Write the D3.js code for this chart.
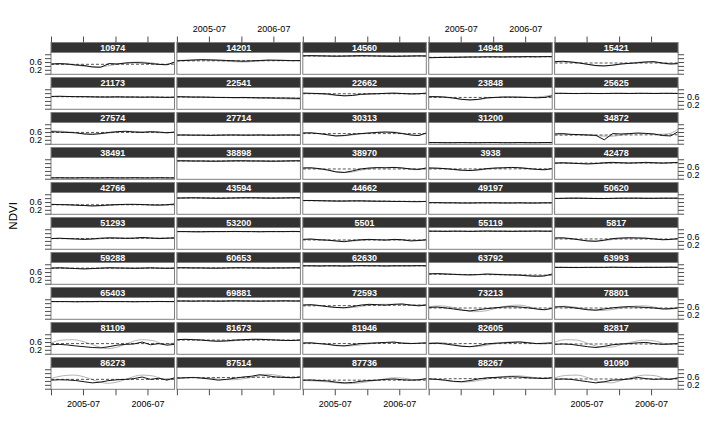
<!DOCTYPE html>
<html><head><meta charset="utf-8">
<script src="https://cdn.jsdelivr.net/npm/d3@7"></script>
<style>
html,body{margin:0;padding:0;background:#fff;}
svg{display:block;font-family:"Liberation Sans",Arial,Helvetica,sans-serif;}
</style></head>
<body><svg id="chart" width="720" height="432"></svg>
<script>
const panelIds = ["10974","14201","14560","14948","15421",
"21173","22541","22662","23848","25625",
"27574","27714","30313","31200","34872",
"38491","38898","38970","3938","42478",
"42766","43594","44662","49197","50620",
"51293","53200","5501","55119","5817",
"59288","60653","62630","63792","63993",
"65403","69881","72593","73213","78801",
"81109","81673","81946","82605","82817",
"86273","87514","87736","88267","91090"];

const obsDates = ["2005-01-01","2005-02-16","2005-04-04","2005-05-21","2005-07-07","2005-08-23","2005-10-09","2005-11-25",
"2006-01-11","2006-02-27","2006-04-15","2006-06-01","2006-07-18","2006-09-03","2006-10-20","2006-12-01"];
const fitDates = ["2005-01-01","2005-03-05","2005-05-08","2005-07-11","2005-09-13","2005-11-16",
"2006-01-19","2006-03-24","2006-05-27","2006-07-30","2006-10-01","2006-12-01"];
const xTicks = ["2005-01-01","2005-07-01","2006-01-01","2006-07-01"];
const xTickLabels = ["","2005-07","","2006-07"];
const yTicks = [0,0.2,0.4,0.6,0.8,1.0];
const yTickLabels = ["","0.2","","0.6","",""];

const obsValues = [
[0.50,0.52,0.50,0.45,0.42,0.35,0.33,0.52,0.50,0.55,0.57,0.56,0.52,0.48,0.46,0.60],
[0.66,0.68,0.70,0.72,0.71,0.70,0.68,0.66,0.64,0.66,0.68,0.70,0.69,0.68,0.67,0.68],
[0.92,0.93,0.92,0.91,0.90,0.91,0.92,0.93,0.92,0.91,0.90,0.89,0.90,0.91,0.92,0.91],
[0.82,0.83,0.84,0.84,0.85,0.86,0.86,0.87,0.87,0.86,0.87,0.87,0.88,0.87,0.88,0.88],
[0.62,0.64,0.60,0.55,0.48,0.42,0.40,0.44,0.50,0.53,0.56,0.60,0.62,0.55,0.50,0.52],
[0.63,0.64,0.63,0.62,0.62,0.61,0.60,0.60,0.61,0.60,0.60,0.59,0.60,0.59,0.58,0.59],
[0.62,0.61,0.60,0.60,0.59,0.58,0.58,0.57,0.58,0.57,0.56,0.56,0.55,0.55,0.54,0.53],
[0.80,0.79,0.78,0.76,0.70,0.66,0.68,0.74,0.76,0.77,0.79,0.80,0.78,0.76,0.77,0.80],
[0.62,0.62,0.60,0.55,0.48,0.45,0.48,0.56,0.58,0.60,0.60,0.59,0.58,0.56,0.58,0.66],
[0.79,0.79,0.78,0.78,0.79,0.78,0.78,0.79,0.79,0.78,0.79,0.79,0.78,0.79,0.79,0.78],
[0.62,0.60,0.58,0.56,0.50,0.48,0.52,0.58,0.62,0.64,0.60,0.58,0.62,0.60,0.56,0.60],
[0.45,0.45,0.44,0.44,0.43,0.44,0.45,0.45,0.44,0.44,0.45,0.44,0.44,0.45,0.45,0.44],
[0.55,0.56,0.52,0.46,0.40,0.42,0.48,0.52,0.55,0.58,0.60,0.58,0.52,0.45,0.42,0.55],
[0.06,0.06,0.05,0.05,0.06,0.05,0.05,0.06,0.06,0.05,0.05,0.06,0.05,0.05,0.06,0.06],
[0.50,0.52,0.48,0.47,0.45,0.43,0.20,0.52,0.50,0.52,0.55,0.53,0.50,0.42,0.40,0.62],
[0.04,0.05,0.04,0.04,0.05,0.04,0.04,0.05,0.04,0.04,0.05,0.04,0.04,0.05,0.04,0.04],
[0.92,0.92,0.91,0.91,0.90,0.90,0.91,0.92,0.92,0.91,0.91,0.90,0.90,0.91,0.92,0.92],
[0.55,0.56,0.52,0.45,0.35,0.32,0.40,0.50,0.55,0.57,0.56,0.58,0.55,0.50,0.48,0.55],
[0.55,0.54,0.52,0.48,0.44,0.42,0.46,0.52,0.55,0.56,0.58,0.56,0.52,0.48,0.46,0.52],
[0.80,0.82,0.80,0.78,0.76,0.78,0.82,0.84,0.82,0.80,0.82,0.84,0.82,0.80,0.82,0.84],
[0.48,0.47,0.46,0.44,0.42,0.40,0.42,0.45,0.47,0.48,0.48,0.47,0.45,0.44,0.46,0.50],
[0.80,0.81,0.82,0.81,0.80,0.79,0.80,0.81,0.82,0.82,0.81,0.80,0.80,0.81,0.82,0.82],
[0.68,0.68,0.67,0.66,0.65,0.65,0.66,0.66,0.65,0.64,0.64,0.63,0.63,0.62,0.62,0.63],
[0.57,0.57,0.56,0.56,0.55,0.55,0.56,0.56,0.56,0.55,0.55,0.56,0.55,0.55,0.56,0.56],
[0.78,0.79,0.80,0.80,0.79,0.78,0.78,0.79,0.80,0.80,0.80,0.79,0.79,0.80,0.80,0.80],
[0.52,0.54,0.52,0.50,0.48,0.50,0.54,0.56,0.55,0.53,0.54,0.58,0.55,0.52,0.54,0.56],
[0.88,0.88,0.87,0.87,0.88,0.88,0.88,0.89,0.88,0.88,0.87,0.88,0.88,0.88,0.89,0.88],
[0.48,0.50,0.46,0.44,0.40,0.36,0.42,0.46,0.48,0.46,0.44,0.48,0.46,0.40,0.42,0.46],
[0.90,0.90,0.89,0.90,0.90,0.89,0.90,0.91,0.90,0.90,0.89,0.90,0.90,0.91,0.90,0.90],
[0.55,0.56,0.52,0.46,0.40,0.38,0.44,0.52,0.55,0.56,0.55,0.54,0.50,0.46,0.48,0.52],
[0.80,0.82,0.80,0.78,0.76,0.78,0.80,0.82,0.81,0.80,0.79,0.80,0.82,0.80,0.79,0.80],
[0.82,0.82,0.81,0.81,0.80,0.80,0.81,0.82,0.82,0.81,0.81,0.80,0.81,0.81,0.82,0.82],
[0.92,0.92,0.91,0.92,0.92,0.91,0.92,0.93,0.92,0.92,0.91,0.92,0.92,0.92,0.93,0.92],
[0.50,0.52,0.50,0.48,0.46,0.45,0.47,0.50,0.48,0.46,0.45,0.44,0.40,0.38,0.40,0.50],
[0.84,0.84,0.83,0.83,0.84,0.84,0.84,0.85,0.84,0.84,0.83,0.84,0.84,0.84,0.85,0.84],
[0.88,0.88,0.88,0.87,0.88,0.88,0.89,0.88,0.88,0.88,0.87,0.88,0.88,0.89,0.88,0.88],
[0.91,0.91,0.90,0.91,0.91,0.90,0.91,0.92,0.91,0.91,0.90,0.91,0.91,0.92,0.91,0.91],
[0.70,0.72,0.68,0.62,0.58,0.56,0.62,0.70,0.74,0.72,0.70,0.74,0.76,0.70,0.66,0.70],
[0.58,0.60,0.56,0.50,0.44,0.40,0.46,0.52,0.56,0.60,0.62,0.60,0.56,0.50,0.46,0.54],
[0.60,0.62,0.58,0.52,0.46,0.44,0.50,0.56,0.60,0.62,0.60,0.58,0.55,0.50,0.52,0.56],
[0.46,0.48,0.45,0.40,0.36,0.32,0.30,0.36,0.44,0.48,0.50,0.60,0.46,0.52,0.44,0.48],
[0.72,0.74,0.72,0.70,0.66,0.64,0.66,0.70,0.72,0.74,0.74,0.72,0.70,0.68,0.68,0.70],
[0.55,0.56,0.52,0.48,0.42,0.40,0.46,0.52,0.54,0.56,0.58,0.60,0.54,0.52,0.54,0.56],
[0.52,0.54,0.50,0.44,0.38,0.36,0.42,0.50,0.54,0.56,0.58,0.60,0.56,0.52,0.54,0.56],
[0.48,0.50,0.48,0.42,0.36,0.32,0.38,0.46,0.50,0.52,0.56,0.58,0.52,0.48,0.50,0.52],
[0.44,0.46,0.45,0.42,0.36,0.30,0.34,0.42,0.46,0.48,0.52,0.60,0.48,0.54,0.44,0.56],
[0.54,0.56,0.58,0.54,0.50,0.44,0.48,0.54,0.60,0.64,0.72,0.66,0.60,0.58,0.56,0.60],
[0.44,0.45,0.42,0.40,0.34,0.30,0.32,0.38,0.42,0.44,0.48,0.50,0.46,0.44,0.46,0.52],
[0.50,0.48,0.44,0.38,0.36,0.42,0.50,0.56,0.58,0.60,0.62,0.60,0.56,0.54,0.52,0.56],
[0.48,0.50,0.48,0.42,0.36,0.30,0.36,0.44,0.46,0.50,0.58,0.52,0.48,0.50,0.48,0.56]
];

const fitValues = [
[0.48,0.50,0.45,0.38,0.34,0.40,0.50,0.58,0.60,0.55,0.46,0.58],
[0.68,0.70,0.72,0.70,0.66,0.62,0.60,0.64,0.68,0.70,0.68,0.66],
[0.92,0.91,0.91,0.90,0.88,0.89,0.91,0.92,0.91,0.90,0.90,0.91],
[0.83,0.84,0.85,0.86,0.86,0.87,0.87,0.87,0.87,0.87,0.88,0.88],
[0.60,0.62,0.58,0.48,0.40,0.42,0.50,0.56,0.62,0.58,0.50,0.52],
[0.63,0.63,0.62,0.61,0.60,0.60,0.60,0.60,0.59,0.59,0.59,0.59],
[0.61,0.60,0.59,0.58,0.57,0.56,0.56,0.55,0.54,0.52,0.50,0.49],
[0.80,0.78,0.74,0.69,0.68,0.72,0.76,0.78,0.80,0.78,0.76,0.80],
[0.62,0.60,0.55,0.48,0.46,0.52,0.58,0.60,0.60,0.58,0.62,0.70],
[0.79,0.79,0.78,0.78,0.78,0.78,0.79,0.79,0.79,0.79,0.79,0.79],
[0.66,0.64,0.58,0.52,0.50,0.54,0.60,0.64,0.62,0.58,0.56,0.58],
[0.44,0.44,0.44,0.43,0.43,0.44,0.45,0.45,0.44,0.44,0.44,0.44],
[0.56,0.54,0.48,0.40,0.42,0.50,0.56,0.60,0.60,0.52,0.42,0.55],
[0.055,0.055,0.055,0.055,0.055,0.055,0.055,0.055,0.055,0.055,0.055,0.055],
[0.50,0.48,0.46,0.44,0.40,0.38,0.45,0.52,0.52,0.48,0.50,0.75],
[0.045,0.045,0.045,0.045,0.045,0.045,0.045,0.045,0.045,0.045,0.045,0.045],
[0.92,0.91,0.91,0.90,0.90,0.91,0.92,0.92,0.91,0.90,0.91,0.92],
[0.56,0.54,0.46,0.36,0.32,0.42,0.52,0.58,0.58,0.54,0.46,0.56],
[0.56,0.54,0.48,0.42,0.42,0.48,0.54,0.58,0.58,0.52,0.46,0.52],
[0.81,0.80,0.78,0.77,0.78,0.80,0.82,0.82,0.81,0.81,0.82,0.83],
[0.48,0.47,0.45,0.42,0.40,0.42,0.46,0.48,0.48,0.46,0.45,0.48],
[0.81,0.81,0.81,0.80,0.80,0.80,0.81,0.82,0.81,0.81,0.81,0.82],
[0.68,0.67,0.66,0.65,0.65,0.66,0.65,0.64,0.63,0.63,0.62,0.63],
[0.57,0.56,0.56,0.55,0.55,0.56,0.56,0.56,0.55,0.55,0.55,0.56],
[0.78,0.79,0.80,0.79,0.78,0.78,0.79,0.80,0.80,0.79,0.79,0.80],
[0.53,0.52,0.50,0.49,0.50,0.53,0.55,0.55,0.54,0.55,0.55,0.55],
[0.88,0.88,0.87,0.87,0.88,0.88,0.88,0.88,0.88,0.88,0.88,0.88],
[0.48,0.47,0.44,0.40,0.38,0.42,0.46,0.47,0.46,0.45,0.43,0.46],
[0.90,0.90,0.90,0.89,0.89,0.90,0.90,0.90,0.90,0.90,0.90,0.90],
[0.56,0.53,0.47,0.40,0.40,0.46,0.53,0.56,0.55,0.50,0.46,0.52],
[0.81,0.80,0.78,0.77,0.78,0.80,0.81,0.81,0.80,0.80,0.80,0.80],
[0.82,0.81,0.81,0.80,0.80,0.81,0.82,0.82,0.81,0.81,0.81,0.82],
[0.92,0.92,0.92,0.91,0.91,0.92,0.92,0.92,0.92,0.92,0.92,0.92],
[0.52,0.51,0.49,0.47,0.46,0.48,0.49,0.47,0.45,0.42,0.40,0.48],
[0.84,0.84,0.84,0.83,0.83,0.84,0.84,0.84,0.84,0.84,0.84,0.84],
[0.88,0.88,0.88,0.87,0.87,0.88,0.88,0.88,0.88,0.88,0.88,0.88],
[0.91,0.91,0.91,0.90,0.90,0.91,0.91,0.91,0.91,0.91,0.91,0.91],
[0.72,0.70,0.64,0.58,0.56,0.62,0.70,0.74,0.74,0.72,0.70,0.72],
[0.62,0.66,0.60,0.46,0.36,0.40,0.54,0.66,0.70,0.60,0.46,0.52],
[0.62,0.64,0.58,0.48,0.42,0.46,0.56,0.64,0.66,0.58,0.48,0.54],
[0.55,0.70,0.72,0.60,0.40,0.26,0.36,0.58,0.72,0.68,0.50,0.55],
[0.73,0.74,0.72,0.67,0.64,0.66,0.71,0.74,0.74,0.71,0.68,0.70],
[0.56,0.54,0.50,0.44,0.40,0.44,0.52,0.56,0.58,0.56,0.52,0.56],
[0.56,0.58,0.50,0.40,0.36,0.42,0.52,0.60,0.62,0.56,0.50,0.54],
[0.60,0.72,0.70,0.52,0.36,0.34,0.48,0.62,0.70,0.64,0.50,0.52],
[0.52,0.66,0.70,0.60,0.40,0.28,0.36,0.56,0.70,0.66,0.50,0.54],
[0.55,0.57,0.58,0.54,0.48,0.46,0.52,0.62,0.74,0.68,0.58,0.58],
[0.42,0.40,0.36,0.30,0.26,0.30,0.38,0.48,0.56,0.54,0.44,0.50],
[0.52,0.46,0.38,0.34,0.38,0.48,0.58,0.64,0.66,0.60,0.54,0.56],
[0.56,0.68,0.70,0.56,0.36,0.30,0.44,0.60,0.70,0.66,0.50,0.56]
];

const trendValues = [
[0.48,0.49],[0.66,0.67],[0.91,0.91],[0.84,0.87],[0.55,0.55],
[0.62,0.59],[0.60,0.54],[0.77,0.77],[0.58,0.58],[0.785,0.785],
[0.58,0.58],[0.44,0.44],[0.52,0.52],[0.055,0.055],[0.44,0.46],
[0.045,0.045],[0.91,0.91],[0.50,0.50],[0.50,0.51],[0.80,0.81],
[0.46,0.46],[0.81,0.81],[0.67,0.63],[0.56,0.56],[0.79,0.79],
[0.52,0.54],[0.88,0.88],[0.45,0.45],[0.90,0.90],[0.50,0.50],
[0.80,0.80],[0.81,0.81],[0.92,0.92],[0.49,0.44],[0.84,0.84],
[0.88,0.88],[0.91,0.91],[0.66,0.70],[0.55,0.55],[0.55,0.55],
[0.52,0.52],[0.70,0.70],[0.52,0.53],[0.52,0.52],[0.50,0.50],
[0.48,0.48],[0.56,0.60],[0.44,0.44],[0.50,0.56],[0.50,0.50]
];

const parse = d3.timeParse("%Y-%m-%d");
const svg = d3.select("#chart");

const nCols = 5, nRows = 10;
const left0 = 51, colPitch = 125.9, pw = 123.5;
const top0 = 42.5, rowPitch = 35, stripH = 10, ph = 21.8;

const x = d3.scaleTime().domain([parse("2005-01-01"), parse("2006-12-01")]).range([0, pw]);
const y = d3.scaleLinear().domain([-0.03, 1.09]).range([ph, 0]);

const lineObs = d3.line().x((d,i)=>x(parse(obsDates[i]))).y(d=>y(d));
const lineFit = d3.line().x((d,i)=>x(parse(fitDates[i]))).y(d=>y(d)).curve(d3.curveMonotoneX);
const lineTrend = d3.line().x((d,i)=>x(i===0?parse(obsDates[0]):parse(obsDates[obsDates.length-1]))).y(d=>y(d));

const xTickDates = xTicks.map(parse);
const fmtX = (d)=>xTickLabels[xTickDates.findIndex(t=>+t===+d)];
const fmtY = (d)=>yTickLabels[yTicks.indexOf(d)];

function styleAxis(g){
  g.select(".domain").remove();
  g.selectAll(".tick line").attr("stroke","#4d4d4d");
  g.selectAll(".tick text").attr("fill","#000").attr("font-size","9px")
    .attr("font-family","'Liberation Sans',Arial,sans-serif");
}

panelIds.forEach((id, i) => {
  const r = Math.floor(i / nCols), c = i % nCols;
  const px = left0 + c * colPitch;
  const sy = top0 + r * rowPitch;
  const py = sy + stripH;
  const g = svg.append("g").attr("transform", `translate(${px},${py})`);

  const cid = "clip" + i;
  svg.append("clipPath").attr("id", cid).append("rect").attr("x",0).attr("y",0).attr("width",pw).attr("height",ph);
  const plot = g.append("g").attr("clip-path", `url(#${cid})`);

  plot.append("path").datum(fitValues[i]).attr("d", lineFit)
    .attr("fill","none").attr("stroke","#b3b3b3").attr("stroke-width",1);
  plot.append("path").datum(trendValues[i]).attr("d", lineTrend)
    .attr("fill","none").attr("stroke","#555").attr("stroke-width",1).attr("stroke-dasharray","3,2");
  plot.append("path").datum(obsValues[i]).attr("d", lineObs)
    .attr("fill","none").attr("stroke","#111").attr("stroke-width",1);

  g.append("rect").attr("x",0).attr("y",0).attr("width",pw).attr("height",ph)
    .attr("fill","none").attr("stroke","#7f7f7f").attr("stroke-width",1);

  svg.append("rect").attr("x",px).attr("y",sy).attr("width",pw).attr("height",stripH)
    .attr("fill","#333333").attr("stroke","#7f7f7f").attr("stroke-width",1);
  svg.append("text").attr("x",px+pw/2).attr("y",sy+stripH/2).attr("dy","0.36em")
    .attr("text-anchor","middle").attr("fill","#fff").attr("font-size","9px").attr("font-weight","bold")
    .attr("font-family","'Liberation Sans',Arial,sans-serif").text(id);

  if (c === 0) {
    const ax = d3.axisLeft(y).tickValues(yTicks).tickSize(6).tickPadding(3)
      .tickFormat(r % 2 === 0 ? fmtY : () => "");
    g.append("g").call(ax).call(styleAxis);
  }
  if (c === nCols - 1) {
    const ax = d3.axisRight(y).tickValues(yTicks).tickSize(6).tickPadding(3)
      .tickFormat(r % 2 === 1 ? fmtY : () => "");
    g.append("g").attr("transform",`translate(${pw},0)`).call(ax).call(styleAxis);
  }
  if (r === 0) {
    const ax = d3.axisTop(x).tickValues(xTickDates).tickSize(6).tickPadding(5)
      .tickFormat(c % 2 === 1 ? fmtX : () => "");
    svg.append("g").attr("transform",`translate(${px},${sy})`).call(ax).call(styleAxis);
  }
  if (r === nRows - 1) {
    const ax = d3.axisBottom(x).tickValues(xTickDates).tickSize(6).tickPadding(5)
      .tickFormat(c % 2 === 0 ? fmtX : () => "");
    svg.append("g").attr("transform",`translate(${px},${py+ph})`).call(ax).call(styleAxis);
  }
});

const midY = top0 + ((nRows-1)*rowPitch + stripH + ph) / 2;
svg.append("text").attr("transform",`translate(13,${midY}) rotate(-90)`)
  .attr("text-anchor","middle").attr("dy","0.35em").attr("font-size","11.5px")
  .attr("font-family","'Liberation Sans',Arial,sans-serif").text("NDVI");
</script>
</body></html>
